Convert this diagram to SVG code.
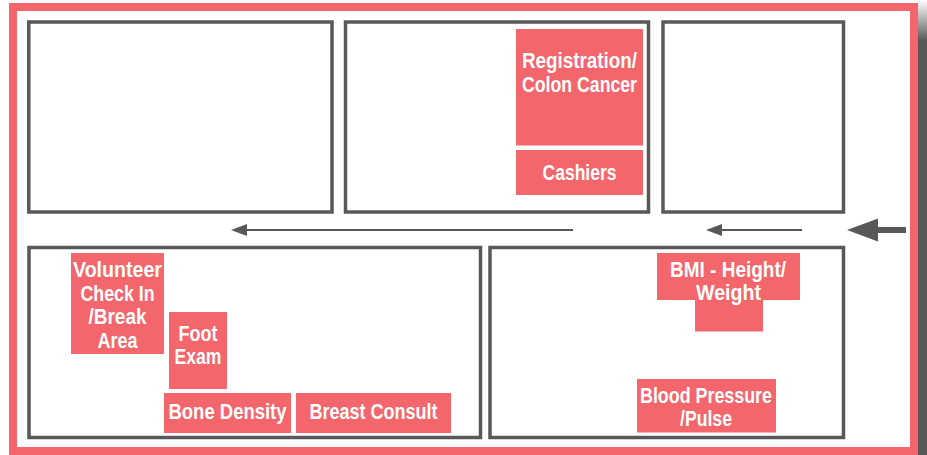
<svg xmlns="http://www.w3.org/2000/svg" width="927" height="455" viewBox="0 0 927 455">
<defs>
<linearGradient id="sh" x1="0" y1="0" x2="0" y2="1">
<stop offset="0" stop-color="#5a5857" stop-opacity="0"/>
<stop offset="0.09" stop-color="#5a5857" stop-opacity="1"/>
<stop offset="1" stop-color="#5a5857" stop-opacity="1"/>
</linearGradient>
</defs>
<style>
.room{fill:#fff;stroke:#58585a;stroke-width:3.5}
.st{fill:#f2666c}
.lb{font-family:"Liberation Sans",Arial,sans-serif;font-weight:bold;font-size:22.5px;fill:#fff}
.ln{stroke:#58585a;fill:none}
.hd{fill:#58585a}
</style>
<rect width="927" height="455" fill="#fff"/>
<rect x="918" y="0" width="9" height="455" fill="url(#sh)"/>
<rect x="13" y="7" width="901" height="444" fill="none" stroke="#f2666c" stroke-width="8"/>
<g id="room1"><rect class="room" x="28.8" y="22" width="303.2" height="190"/></g>
<g id="room2"><rect class="room" x="345.5" y="22" width="303" height="190"/></g>
<g id="room3"><rect class="room" x="663" y="22" width="180.5" height="190"/></g>
<g id="room4"><rect class="room" x="29" y="247.5" width="451.5" height="190"/></g>
<g id="room5"><rect class="room" x="490" y="247.5" width="353.5" height="190"/></g>
<g id="registration">
<rect class="st" x="516" y="29" width="127" height="116.5"/>
<text class="lb" x="579.5" y="67.5" text-anchor="middle" textLength="115" lengthAdjust="spacingAndGlyphs">Registration/</text>
<text class="lb" x="579.5" y="92" text-anchor="middle" textLength="115" lengthAdjust="spacingAndGlyphs">Colon Cancer</text>
</g>
<g id="cashiers">
<rect class="st" x="516" y="150" width="127" height="45"/>
<text class="lb" x="579.5" y="180" text-anchor="middle" textLength="74" lengthAdjust="spacingAndGlyphs">Cashiers</text>
</g>
<g id="bmi">
<rect class="st" x="657" y="253" width="143" height="47"/>
<rect class="st" x="695" y="299" width="68" height="32.5"/>
<text class="lb" x="728" y="277" text-anchor="middle" textLength="116" lengthAdjust="spacingAndGlyphs">BMI - Height/</text>
<text class="lb" x="728.5" y="300" text-anchor="middle" textLength="65" lengthAdjust="spacingAndGlyphs">Weight</text>
</g>
<g id="volunteer">
<rect class="st" x="71" y="253" width="93" height="101"/>
<text class="lb" x="117.5" y="277" text-anchor="middle" textLength="89" lengthAdjust="spacingAndGlyphs">Volunteer</text>
<text class="lb" x="117.5" y="300.5" text-anchor="middle" textLength="74" lengthAdjust="spacingAndGlyphs">Check In</text>
<text class="lb" x="117.5" y="324" text-anchor="middle" textLength="58" lengthAdjust="spacingAndGlyphs">/Break</text>
<text class="lb" x="117.5" y="348" text-anchor="middle" textLength="40" lengthAdjust="spacingAndGlyphs">Area</text>
</g>
<g id="foot">
<rect class="st" x="169" y="312" width="58" height="77"/>
<text class="lb" x="198" y="340.5" text-anchor="middle" textLength="39" lengthAdjust="spacingAndGlyphs">Foot</text>
<text class="lb" x="198" y="364" text-anchor="middle" textLength="47" lengthAdjust="spacingAndGlyphs">Exam</text>
</g>
<g id="bone">
<rect class="st" x="164" y="393" width="127" height="40"/>
<text class="lb" x="227.5" y="419" text-anchor="middle" textLength="118" lengthAdjust="spacingAndGlyphs">Bone Density</text>
</g>
<g id="breast">
<rect class="st" x="296" y="393" width="155" height="40"/>
<text class="lb" x="373.5" y="419" text-anchor="middle" textLength="128" lengthAdjust="spacingAndGlyphs">Breast Consult</text>
</g>
<g id="blood">
<rect class="st" x="637" y="379" width="139" height="53.5"/>
<text class="lb" x="706" y="403" text-anchor="middle" textLength="132" lengthAdjust="spacingAndGlyphs">Blood Pressure</text>
<text class="lb" x="706" y="426" text-anchor="middle" textLength="52" lengthAdjust="spacingAndGlyphs">/Pulse</text>
</g>
<g id="connectors">
<line class="ln" x1="573" y1="230" x2="244" y2="230" stroke-width="2"/>
<polygon class="hd" points="231,230 247,224 247,236"/>
<line class="ln" x1="802" y1="230" x2="720" y2="230" stroke-width="2"/>
<polygon class="hd" points="706,230 722,224 722,236"/>
<line class="ln" x1="906" y1="230" x2="875" y2="230" stroke-width="6"/>
<polygon class="hd" points="847,230 878,218.5 878,241.5"/>
</g>
</svg>
